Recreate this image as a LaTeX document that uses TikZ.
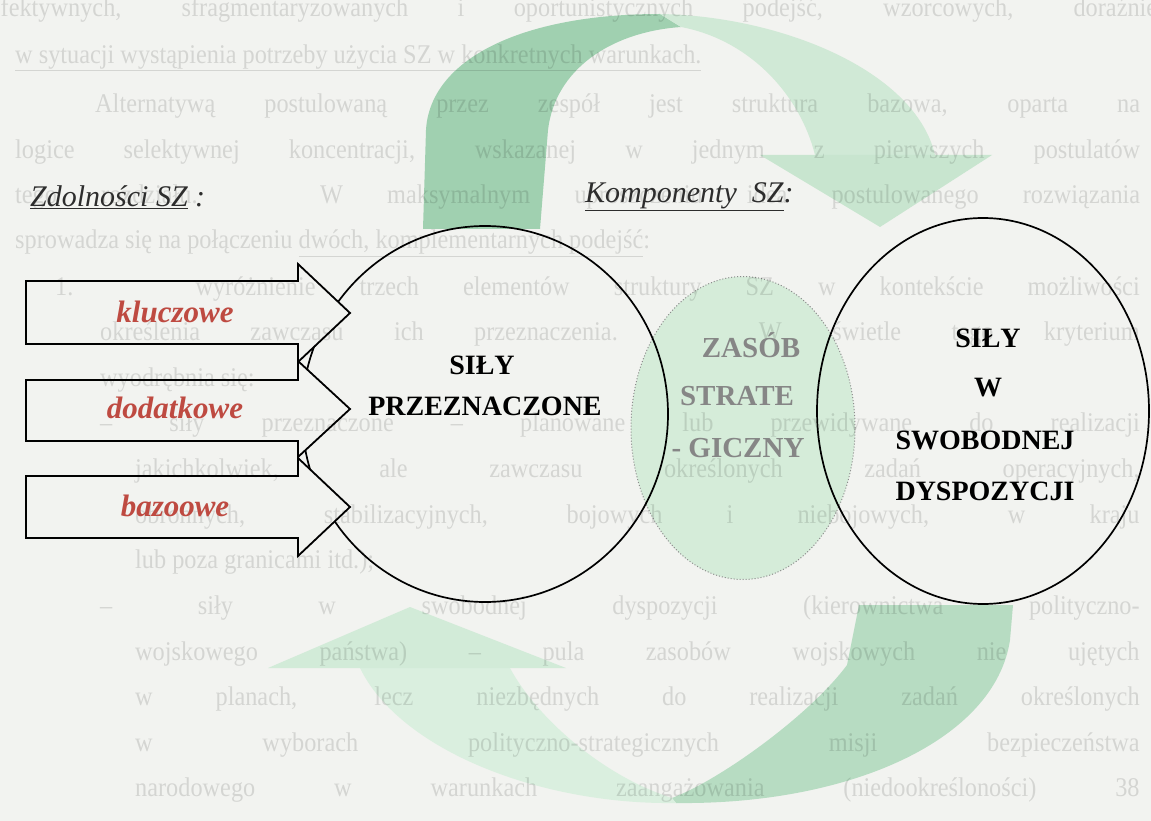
\documentclass[tikz,border=0pt]{standalone}
\usepackage{fontspec}
\setmainfont{Liberation Serif}
\usepackage{graphicx}
\usetikzlibrary{shapes.geometric}
\definecolor{bgc}{HTML}{F2F3F0}
\definecolor{gdark}{HTML}{A0D0B0}
\definecolor{glight}{HTML}{D0E9D6}
\definecolor{ghead}{HTML}{C8E5CF}
\definecolor{gmid}{HTML}{B7DCC2}
\definecolor{glighttwo}{HTML}{DAEFDF}
\definecolor{gheadtwo}{HTML}{D2EBD8}
\definecolor{midfill}{HTML}{D5ECD9}
\definecolor{redlab}{HTML}{BE4A41}
\definecolor{graylab}{HTML}{868686}
\definecolor{titlec}{HTML}{2D2D2D}
\newcommand{\bgl}[2]{\scalebox{0.9}[1]{\makebox[#1][s]{#2}}}
\newcommand{\bgn}[1]{\scalebox{0.9}[1]{#1}}
\tikzset{
  ell/.style={ellipse, draw=black, line width=1.7pt, inner sep=0pt},
  dotell/.style={ellipse, draw=black!45, dotted, line width=1pt, fill=midfill, inner sep=0pt},
  barrow/.style={draw=black, line width=1.8pt, fill=bgc, line join=miter},
  bgtext/.style={anchor=west, inner sep=0pt, text=black, text opacity=0.12, font=\fontsize{27}{30}\selectfont},
  redlbl/.style={text=redlab, font=\fontsize{31}{34}\selectfont\bfseries\itshape, inner sep=0pt},
  caplbl/.style={text=black, font=\fontsize{28}{32}\selectfont\bfseries, inner sep=0pt},
  graylbl/.style={text=graylab, font=\fontsize{29}{32}\selectfont\bfseries, inner sep=0pt},
  titlelbl/.style={text=titlec, font=\fontsize{30}{34}\selectfont\itshape, inner sep=0pt, anchor=west}
}
\begin{document}
\begin{tikzpicture}[x=1pt,y=-1pt]
\useasboundingbox (0,0) rectangle (1151,821);
\fill[bgc] (0,0) rectangle (1151,821);

% upper circular arrow
\fill[gdark] (423,229) -- (426,130) .. controls (430,60) and (520,14) .. (660,14)
  -- (681,27) .. controls (610,32) and (555,70) .. (548,130) -- (540,229) -- cycle;
\fill[glight] (660,14) .. controls (780,16) and (915,70) .. (935,155) -- (815,155)
  .. controls (800,95) and (750,40) .. (681,27) -- cycle;
\fill[ghead] (760,155) -- (992,155) -- (880,227) -- cycle;

% lower circular arrow
\fill[gmid] (859,605) -- (1013,605) -- (1010,640) .. controls (995,740) and (850,805) .. (676,803)
  -- (672,798) .. controls (720,780) and (810,715) .. (847,665) -- cycle;
\fill[glighttwo] (360,668) -- (510,668) .. controls (535,715) and (600,775) .. (672,798)
  -- (676,803) .. controls (540,805) and (400,750) .. (360,668) -- cycle;
\fill[gheadtwo] (268,668) -- (566,668) -- (410,607) -- cycle;

% ellipses
\node[dotell, minimum width=224pt, minimum height=303pt] (mid) at (743,428) {};
\node[ell, minimum width=366pt, minimum height=376pt] (left) at (485,414) {};
\node[ell, minimum width=332pt, minimum height=386pt] (right) at (983,411) {};

% block arrows
\draw[barrow] (26,476) -- (298,476) -- (298,458) -- (350,507) -- (298,556) -- (298,538) -- (26,538) -- cycle;
\draw[barrow] (26,380) -- (298,380) -- (298,361) -- (350,409) -- (298,457) -- (298,441) -- (26,441) -- cycle;
\draw[barrow] (26,281) -- (298,281) -- (298,264) -- (350,313) -- (298,362) -- (298,344) -- (26,344) -- cycle;

% faint show-through text of the page
\node[bgtext] (bg1) at (-40,10) {\bgl{1330pt}{nieefektywnych, sfragmentaryzowanych i oportunistycznych podejść, wzorcowych, doraźnie}};
\node[bgtext] (bg2) at (15,58) {\bgn{\underline{w sytuacji wystąpienia potrzeby użycia SZ w konkretnych warunkach.}}};
\node[bgtext] (bg3) at (95,106) {\bgl{1161pt}{Alternatywą postulowaną przez zespół jest struktura bazowa, oparta na}};
\node[bgtext] (bg4) at (15,152) {\bgl{1250pt}{logice selektywnej koncentracji, wskazanej w jednym z pierwszych postulatów}};
\node[bgtext] (bg5) at (15,197) {\bgl{1250pt}{tego rozdziału. W maksymalnym uproszczeniu idea postulowanego rozwiązania}};
\node[bgtext] (bg6) at (15,243) {\bgn{sprowadza się na połączeniu \underline{dwóch, komplementarnych podejść}:}};
\node[bgtext] (bg7) at (55,289) {\bgl{1205pt}{1. wyróżnienie trzech elementów struktury SZ w kontekście możliwości}};
\node[bgtext] (bg8) at (100,334) {\bgl{1155pt}{określenia zawczasu ich przeznaczenia. W świetle tego kryterium}};
\node[bgtext] (bg9) at (100,380) {\bgn{wyodrębnia się:}};
\node[bgtext] (bg10) at (100,425) {\bgl{1155pt}{– siły przeznaczone – planowane lub przewidywane do realizacji}};
\node[bgtext] (bg11) at (135,471) {\bgl{1116pt}{jakichkolwiek, ale zawczasu określonych zadań operacyjnych,}};
\node[bgtext] (bg12) at (135,517) {\bgl{1116pt}{obronnych, stabilizacyjnych, bojowych i niebojowych, w kraju}};
\node[bgtext] (bg13) at (135,562) {\bgn{lub poza granicami itd.);}};
\node[bgtext] (bg14) at (100,608) {\bgl{1155pt}{– siły w swobodnej dyspozycji (kierownictwa polityczno-}};
\node[bgtext] (bg15) at (135,654) {\bgl{1116pt}{wojskowego państwa) – pula zasobów wojskowych nie ujętych}};
\node[bgtext] (bg16) at (135,699) {\bgl{1116pt}{w planach, lecz niezbędnych do realizacji zadań określonych}};
\node[bgtext] (bg17) at (135,745) {\bgl{1116pt}{w wyborach polityczno-strategicznych misji bezpieczeństwa}};
\node[bgtext] (bg18) at (135,790) {\bgl{1116pt}{narodowego w warunkach zaangażowania (niedookreśloności) 38}};

% titles
\node[titlelbl] (zdol) at (30,197) {\underline{Zdolności SZ} :};
\node[titlelbl] (komp) at (585,197) {\underline{Komponenty\ \ SZ}:};

% arrow labels
\node[redlbl] (kl) at (175,312) {kluczowe};
\node[redlbl] (dod) at (175,408) {dodatkowe};
\node[redlbl] (baz) at (175,506) {bazoowe};

% ellipse labels
\node[caplbl] (silyL) at (482,365) {SIŁY};
\node[caplbl] (przez) at (485,406) {PRZEZNACZONE};
\node[graylbl] (zas) at (751,345) {ZASÓB};
\node[graylbl] (strate) at (737,396) {STRATE};
\node[graylbl] (gicz) at (738,448) {- GICZNY};
\node[caplbl] (silyR) at (988,338) {SIŁY};
\node[caplbl] (wlab) at (988,388) {W};
\node[caplbl] (swob) at (985,440) {SWOBODNEJ};
\node[caplbl] (dysp) at (985,491) {DYSPOZYCJI};
\end{tikzpicture}
\end{document}
